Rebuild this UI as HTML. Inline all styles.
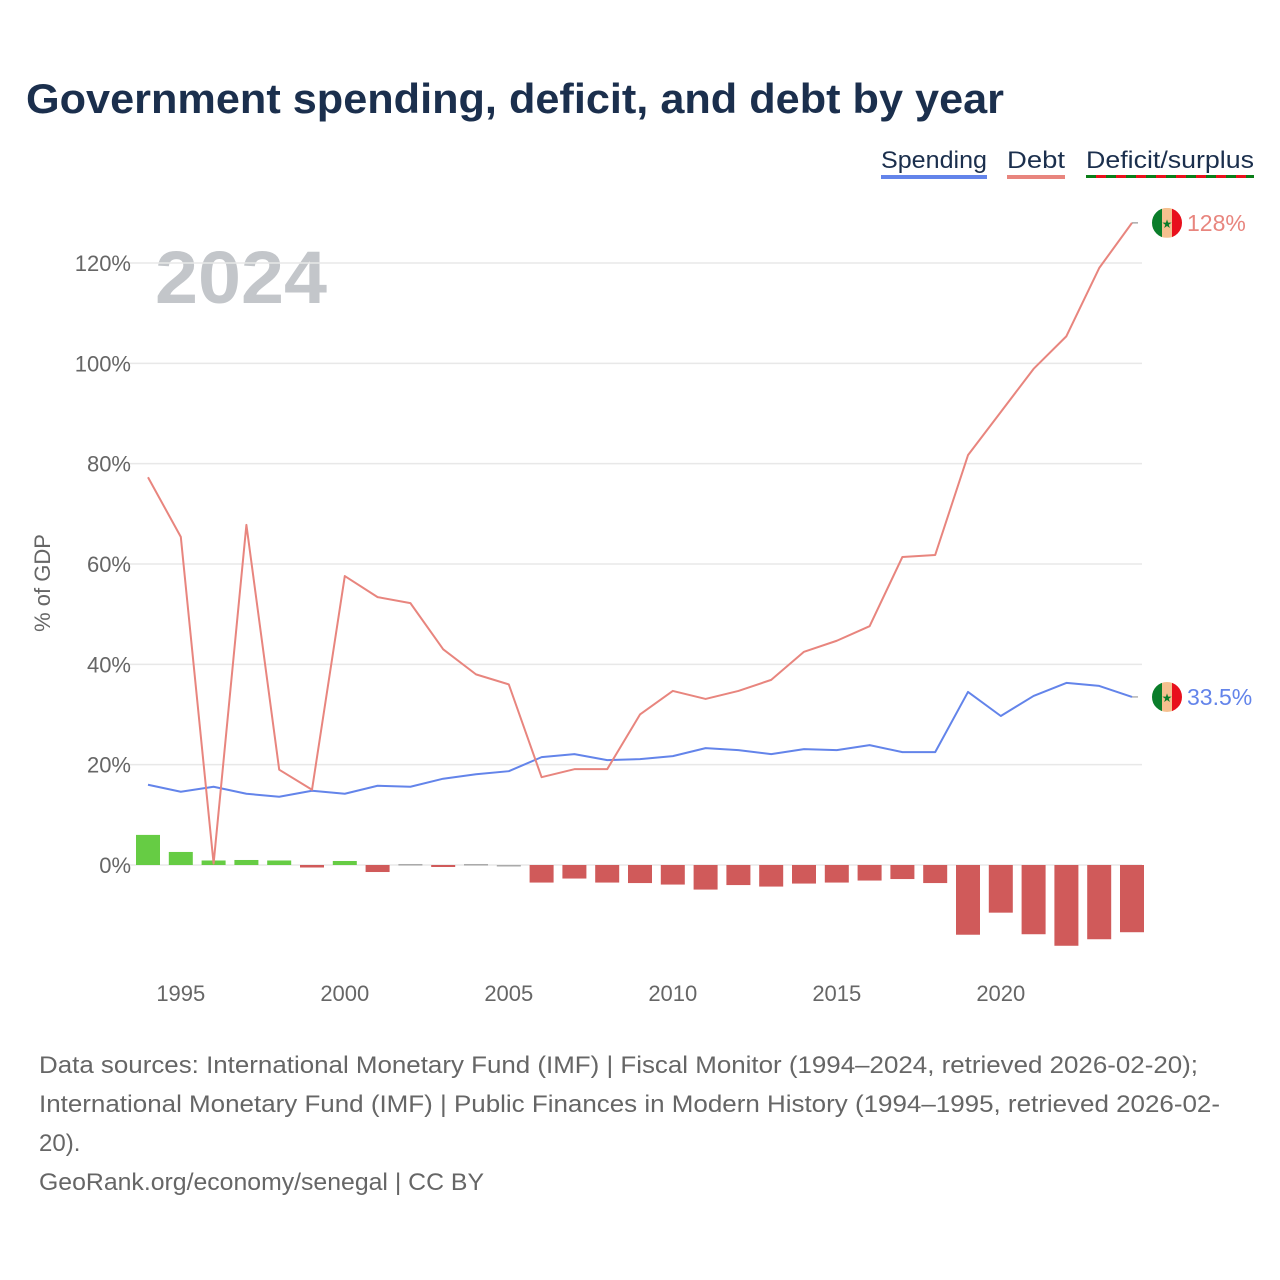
<!DOCTYPE html>
<html><head><meta charset="utf-8">
<style>
body{margin:0;background:#fff;font-family:"Liberation Sans",sans-serif;}
#wrap{position:relative;width:1280px;height:1280px;overflow:hidden;}
</style></head>
<body>
<div id="wrap">
<svg id="chart" width="1280" height="1280" xmlns="http://www.w3.org/2000/svg">
<text x="26" y="113" font-size="42" font-weight="bold" fill="#1b2f4d" textLength="978" lengthAdjust="spacingAndGlyphs" font-family="Liberation Sans, sans-serif">Government spending, deficit, and debt by year</text>
<g font-size="24" fill="#1b2f4d">
<g><text x="881" y="168" textLength="106" lengthAdjust="spacingAndGlyphs">Spending</text><rect x="881" y="175" width="106" height="4" fill="#6384ea"/></g>
<g><text x="1007" y="168" textLength="58" lengthAdjust="spacingAndGlyphs">Debt</text><rect x="1007" y="175" width="58" height="4" fill="#e8857e"/></g>
<g><text x="1086" y="168" textLength="168" lengthAdjust="spacingAndGlyphs">Deficit/surplus</text><rect x="1086" y="175" width="168" height="3" fill="#0a7d17"/>
<path d="M1096 176.5h10M1116 176.5h10M1136 176.5h10M1156 176.5h10M1176 176.5h10M1196 176.5h10M1216 176.5h10M1236 176.5h10" stroke="#e8101c" stroke-width="3"/></g>
</g>
<text x="155" y="303" font-size="74" font-weight="bold" fill="#c3c6ca" textLength="172" lengthAdjust="spacingAndGlyphs">2024</text>
<text transform="translate(50,583) rotate(-90)" text-anchor="middle" font-size="22" fill="#666">% of GDP</text>
<g id="grid"></g><g id="bars"></g><g id="lines"></g><g id="xt"></g><g id="ends"></g>
<g font-size="24" fill="#666">
<text x="39" y="1073" textLength="1159" lengthAdjust="spacingAndGlyphs">Data sources: International Monetary Fund (IMF) | Fiscal Monitor (1994–2024, retrieved 2026-02-20);</text>
<text x="39" y="1112" textLength="1181" lengthAdjust="spacingAndGlyphs">International Monetary Fund (IMF) | Public Finances in Modern History (1994–1995, retrieved 2026-02-</text>
<text x="39" y="1151">20).</text>
<text x="39" y="1190" textLength="445" lengthAdjust="spacingAndGlyphs">GeoRank.org/economy/senegal | CC BY</text>
</g>
</svg>
</div>
<script>
const years=[1994,1995,1996,1997,1998,1999,2000,2001,2002,2003,2004,2005,2006,2007,2008,2009,2010,2011,2012,2013,2014,2015,2016,2017,2018,2019,2020,2021,2022,2023,2024];
const debt=[77.3,65.4,0.3,67.8,19,15,57.6,53.4,52.2,43,38,36,17.5,19.1,19.1,30,34.7,33.1,34.7,36.9,42.5,44.7,47.6,61.4,61.8,81.7,90.3,98.9,105.4,119,128];
const spending=[16,14.6,15.6,14.2,13.6,14.8,14.2,15.8,15.6,17.2,18.1,18.7,21.5,22.1,20.9,21.1,21.7,23.3,22.9,22.1,23.1,22.9,23.9,22.5,22.5,34.5,29.7,33.7,36.3,35.7,33.5];
const deficit=[6,2.6,0.9,1,0.9,-0.5,0.8,-1.4,0.2,-0.4,0.2,-0.1,-3.5,-2.7,-3.5,-3.6,-3.9,-4.9,-4,-4.3,-3.7,-3.5,-3.1,-2.8,-3.6,-13.9,-9.5,-13.8,-16.1,-14.8,-13.4];
const yTicks=[0,20,40,60,80,100,120];
const xTicks=[1995,2000,2005,2010,2015,2020];
const NS='http://www.w3.org/2000/svg';
const X=y=>148+(y-1994)*32.8;
const Y=v=>865-v*5.0167;
function mk(tag,attrs,parent){const e=document.createElementNS(NS,tag);for(const k in attrs)e.setAttribute(k,attrs[k]);parent.appendChild(e);return e;}
const grid=document.getElementById('grid');
yTicks.forEach(t=>{
 const l=mk('line',{x1:130,x2:1142,y1:Y(t),y2:Y(t),stroke:'#e8e8e8','stroke-width':1.5},grid);
 
 
 const tx=mk('text',{x:131,y:Y(t)+8,'text-anchor':'end','font-size':22,fill:'#666'},grid);
 tx.textContent=t+'%';
 
 
});
const xt=document.getElementById('xt');
xTicks.forEach(t=>{
 const tx=mk('text',{x:X(t),y:1001,'text-anchor':'middle','font-size':22,fill:'#666'},xt);
 tx.textContent=t;
 
 
});
const bars=document.getElementById('bars');
years.forEach((yr,i)=>{
 const v=deficit[i];
 const col=Math.abs(v)<0.3?'#aaaaaa':(v>0?'#66cc44':'#d05a5a');
 const h=Math.max(Math.abs(v)*5.0167,1.5);
 const r=mk('rect',{x:X(yr)-12,y:v>0?Y(v):865,width:24,height:h,fill:col},bars);
 
 
});
const lines=document.getElementById('lines');
function line(arr,col,name){
 const p=mk('polyline',{points:years.map((y,i)=>X(y)+','+Y(arr[i])).join(' '),fill:'none',stroke:col,'stroke-width':2,'stroke-linejoin':'round'},lines);
 
 
}
line(spending,'#6384ea','spending-line');
line(debt,'#e8857e','debt-line');
const ends=document.getElementById('ends');
function endLabel(v,col,txt,name){
 const y=Y(v), x0=X(2024);
 mk('line',{x1:x0,x2:1152,y1:y,y2:y,stroke:'#999','stroke-width':1.2},ends);
 const g=mk('g',{},ends);
 
 
 mk('rect',{x:1152,y:y-15,width:10,height:30,fill:'#0a7d2a'},g);
 mk('rect',{x:1162,y:y-15,width:10,height:30,fill:'#f5c08f'},g);
 mk('rect',{x:1172,y:y-15,width:10,height:30,fill:'#e8101c'},g);
 const s=mk('text',{x:1167,y:y+5,'text-anchor':'middle','font-size':12,fill:'#0a7d2a'},g);s.textContent='★';
 mk('circle',{cx:1167,cy:y,r:22,fill:'none',stroke:'#fff','stroke-width':14},g);
 const t=mk('text',{x:1187,y:y+8,'font-size':23,fill:col},ends);
 t.textContent=txt;
 
 
}
endLabel(debt[debt.length-1],'#e8857e','128%','debt');
endLabel(spending[spending.length-1],'#6384ea','33.5%','spending');
</script>
</body></html>
